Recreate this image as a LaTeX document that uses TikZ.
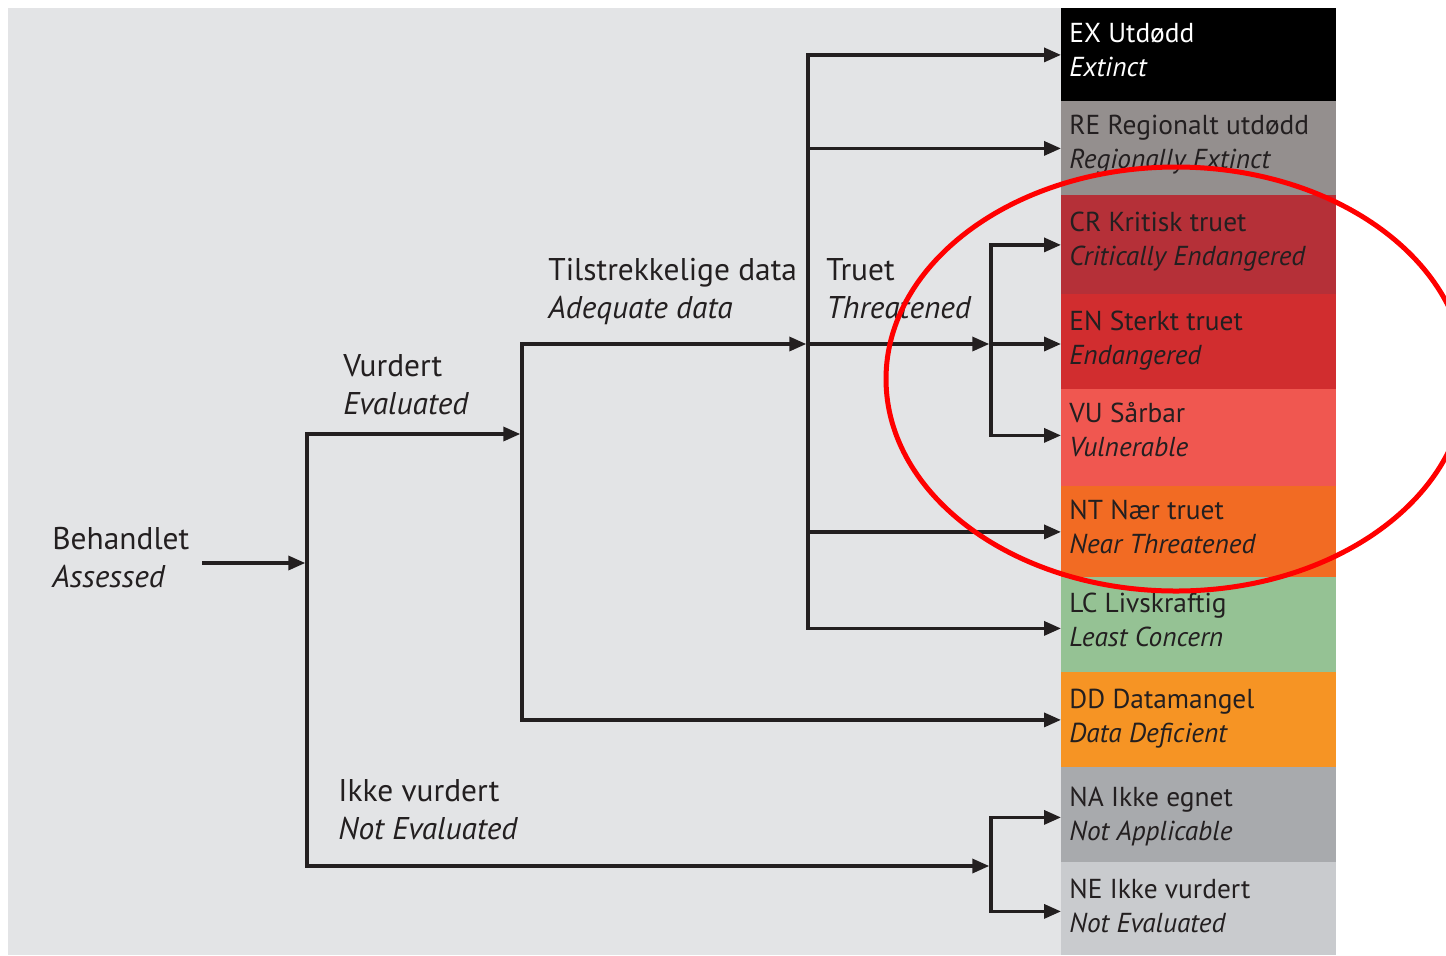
\documentclass[tikz,border=0pt]{standalone}
\usepackage{fontspec}
\setmainfont{PT Sans}
\usetikzlibrary{arrows.meta}
\definecolor{bgGray}{HTML}{E3E4E6}
\definecolor{txt}{HTML}{231F20}
\definecolor{cRE}{HTML}{948F8E}
\definecolor{cCR}{HTML}{B53038}
\definecolor{cEN}{HTML}{D12D2F}
\definecolor{cVU}{HTML}{F05750}
\definecolor{cNT}{HTML}{F26B23}
\definecolor{cLC}{HTML}{95C294}
\definecolor{cDD}{HTML}{F69424}
\definecolor{cNA}{HTML}{A8AAAD}
\definecolor{cNE}{HTML}{C9CBCE}
\definecolor{ringred}{HTML}{FF0000}
\begin{document}
\begin{tikzpicture}[x=0.5pt,y=-0.5pt,
  catbox/.style={draw=none, rectangle, anchor=north west, inner sep=0pt, minimum width=137.5pt},
  boxtxt/.style={anchor=base west, inner sep=0pt, align=left, text=txt, font=\fontsize{13.7}{17}\selectfont},
  lbl/.style={anchor=base west, inner sep=0pt, align=left, text=txt, font=\fontsize{15.7}{19}\selectfont},
  arr/.style={draw=txt, line width=1.7pt, -{Triangle[length=8.5pt,width=7pt]}},
  tojunc/.style={arr, shorten >=0.85pt}
]
\useasboundingbox (0,0) rectangle (1446,955);
\clip (0,0) rectangle (1446,955);
\fill[white] (0,0) rectangle (1446,955);
\fill[bgGray] (8,8) rectangle (1061,955);

% category boxes
\node[catbox, fill=black, minimum height=46.5pt] (EX) at (1061,8) {};
\node[catbox, fill=cRE, minimum height=47pt] (RE) at (1061,101) {};
\node[catbox, fill=cCR, minimum height=49.5pt] (CR) at (1061,195) {};
\node[catbox, fill=cEN, minimum height=47.5pt] (EN) at (1061,294) {};
\node[catbox, fill=cVU, minimum height=48.5pt] (VU) at (1061,389) {};
\node[catbox, fill=cNT, minimum height=45.5pt] (NT) at (1061,486) {};
\node[catbox, fill=cLC, minimum height=47.5pt] (LC) at (1061,577) {};
\node[catbox, fill=cDD, minimum height=47.5pt] (DD) at (1061,672) {};
\node[catbox, fill=cNA, minimum height=47.5pt] (NA) at (1061,767) {};
\node[catbox, fill=cNE, minimum height=46.5pt] (NE) at (1061,862) {};

% box texts (anchor = baseline of the second line)
\node[boxtxt, text=white] (EXt) at (1069,76) {EX Utdødd\\\textit{Extinct}};
\node[boxtxt] (REt) at (1069,168) {RE Regionalt utdødd\\\textit{Regionally Extinct}};
\node[boxtxt] (CRt) at (1069,265) {CR Kritisk truet\\\textit{Critically Endangered}};
\node[boxtxt] (ENt) at (1069,364) {EN Sterkt truet\\\textit{Endangered}};
\node[boxtxt] (VUt) at (1069,456) {VU Sårbar\\\textit{Vulnerable}};
\node[boxtxt] (NTt) at (1069,553) {NT Nær truet\\\textit{Near Threatened}};
\node[boxtxt] (LCt) at (1069,646) {LC Livskraftig\\\textit{Least Concern}};
\node[boxtxt] (DDt) at (1069,742) {DD Datamangel\\\textit{Data Deficient}};
\node[boxtxt] (NAt) at (1069,840) {NA Ikke egnet\\\textit{Not Applicable}};
\node[boxtxt] (NEt) at (1069,932) {NE Ikke vurdert\\\textit{Not Evaluated}};

% branch labels
\node[lbl] (beh) at (52,587) {Behandlet\\\textit{Assessed}};
\node[lbl] (vur) at (343,414) {Vurdert\\\textit{Evaluated}};
\node[lbl] (til) at (548,318) {Tilstrekkelige data\\\textit{Adequate data}};
\node[lbl] (tru) at (826,318) {Truet\\\textit{Threatened}};
\node[lbl] (ikk) at (338,839) {Ikke vurdert\\\textit{Not Evaluated}};

% junctions
\coordinate (s0) at (202,563);
\coordinate (j1) at (307,563);
\coordinate (j2) at (522,434);
\coordinate (j3) at (808,344);
\coordinate (j4) at (991,344);
\coordinate (j5) at (991,866);

% connectors
\draw[tojunc] (s0) -- (j1);
\draw[tojunc] (j1) |- (j2);
\draw[tojunc] (j1) |- (j5);
\draw[tojunc] (j2) |- (j3);
\draw[arr] (j2) |- (DD.west);
\draw[arr] (j3) |- (EX.west);
\draw[arr] (j3) |- (RE.west);
\draw[tojunc] (j3) -- (j4);
\draw[arr] (j3) |- (NT.west);
\draw[arr] (j3) |- ([yshift=-1.75pt]LC.west);
\draw[arr] (j4) |- (CR.west);
\draw[arr] (j4) -- (j4 -| EN.west);
\draw[arr] (j4) |- ([yshift=1.25pt]VU.west);
\draw[arr] (j5) |- ([yshift=-1.25pt]NA.west);
\draw[arr] (j5) |- ([yshift=-1.25pt]NE.west);

% red highlight ring
\draw[ringred, line width=2.5pt] (1176,379) ellipse [x radius=145pt, y radius=106pt];
\end{tikzpicture}
\end{document}
